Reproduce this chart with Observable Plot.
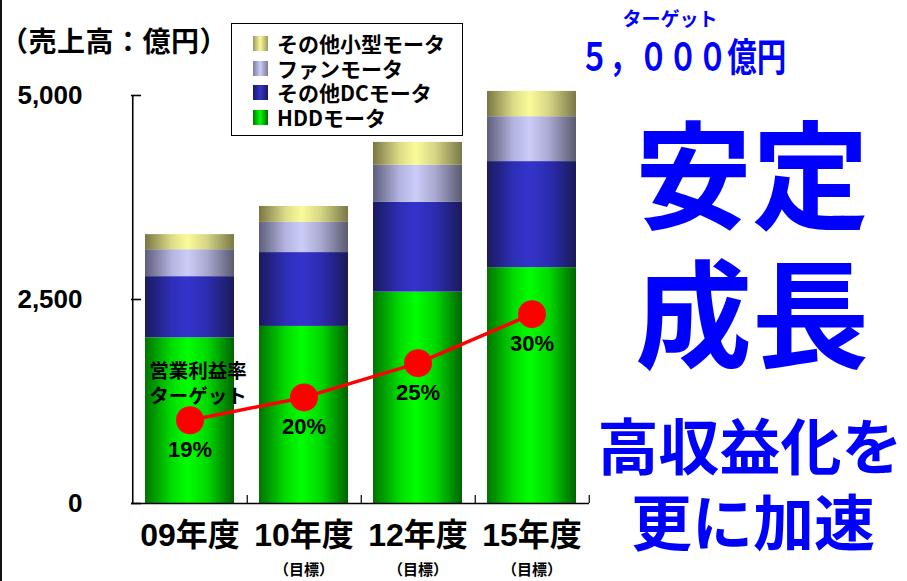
<!DOCTYPE html>
<html>
<head>
<meta charset="utf-8">
<script src="https://cdn.jsdelivr.net/npm/d3@7"></script>
<script src="https://cdn.jsdelivr.net/npm/@observablehq/plot@0.6"></script>
<style>
  html, body { margin: 0; padding: 0; background: #fff; }
  #wrap { position: relative; width: 907px; height: 581px; overflow: hidden; background: #fff;
    font-family: "Noto Sans CJK JP", "Liberation Sans", sans-serif; font-weight: 700; color: #000; }
  #chart { position: absolute; left: 0; top: 0; }
  .abs { position: absolute; white-space: nowrap; line-height: 1; }
  .ctr { transform: translate(-50%, -50%); }
  #leftline { position: absolute; left: 0; top: 0; width: 2px; height: 581px; background: #111; }
  #legend { position: absolute; left: 231px; top: 23px; width: 232px; height: 113px; border: 1px solid #000;
    box-sizing: border-box; padding-top: 7px; background: #fff; }
  .lrow { height: 24.7px; display: flex; align-items: center; font-size: 21px; line-height: 1; }
  .sw { width: 15px; height: 15px; margin-left: 21px; margin-right: 9px; flex: none; }
  .blue { color: #0000ff; }
</style>
</head>
<body>
<svg width="0" height="0" style="position:absolute">
  <defs>
    <linearGradient id="gHDD" x1="0" x2="1" y1="0" y2="0">
      <stop offset="0" stop-color="#007400"/>
      <stop offset="0.3" stop-color="#00dc00"/>
      <stop offset="0.48" stop-color="#00ff00"/>
      <stop offset="0.7" stop-color="#00d800"/>
      <stop offset="1" stop-color="#006400"/>
    </linearGradient>
    <linearGradient id="gDC" x1="0" x2="1" y1="0" y2="0">
      <stop offset="0" stop-color="#1a1a5e"/>
      <stop offset="0.3" stop-color="#2e2eb8"/>
      <stop offset="0.48" stop-color="#3434cc"/>
      <stop offset="0.7" stop-color="#2c2cb0"/>
      <stop offset="1" stop-color="#1a1a5a"/>
    </linearGradient>
    <linearGradient id="gFan" x1="0" x2="1" y1="0" y2="0">
      <stop offset="0" stop-color="#5e5e7c"/>
      <stop offset="0.3" stop-color="#b4b4e0"/>
      <stop offset="0.48" stop-color="#ccccf8"/>
      <stop offset="0.7" stop-color="#a8a8d0"/>
      <stop offset="1" stop-color="#5a5a70"/>
    </linearGradient>
    <linearGradient id="gSmall" x1="0" x2="1" y1="0" y2="0">
      <stop offset="0" stop-color="#7a7644"/>
      <stop offset="0.3" stop-color="#dcdc88"/>
      <stop offset="0.48" stop-color="#fbfb9a"/>
      <stop offset="0.7" stop-color="#d4d484"/>
      <stop offset="1" stop-color="#7a7848"/>
    </linearGradient>
  </defs>
</svg>
<div id="wrap">
  <div id="chart"></div>
  <div id="leftline"></div>
  <div id="title" class="abs" style="left:0px; top:26px; font-size:28px; letter-spacing:0.5px;"></div>
  <div id="legend"></div>
  <div id="tgtLabel" class="abs ctr blue" style="left:670px; top:17px; font-size:19px;"></div>
  <div id="tgtValue" class="abs blue" style="left:683px; top:55px; font-size:29.5px; transform: translate(-50%,-50%) scaleY(1.3);"></div>
  <div id="msg1" class="abs ctr blue" style="left:752px; top:169px; font-size:117px;"></div>
  <div id="msg2" class="abs ctr blue" style="left:752px; top:308px; font-size:117px;"></div>
  <div id="msg3" class="abs ctr blue" style="left:750px; top:443px; font-size:61px;"></div>
  <div id="msg4" class="abs ctr blue" style="left:753px; top:519px; font-size:61px;"></div>
</div>
<script>
// ---- data ----
const years = ["09年度", "10年度", "12年度", "15年度"];
const yearNotes = ["", "（目標）", "（目標）", "（目標）"];
const seriesNames = ["HDDモータ", "その他DCモータ", "ファンモータ", "その他小型モータ"];
const hddMotor = [2030, 2170, 2590, 2890];
const otherDcMotor = [750, 905, 1100, 1300];
const fanMotor = [330, 370, 455, 550];
const otherSmallMotor = [185, 195, 280, 310];
const marginLabels = ["19%", "20%", "25%", "30%"];
const marginMarkerLevel = [1020, 1300, 1720, 2320]; // marker heights read on the sales axis
const yTicks = [0, 2500, 5000];
const titleText = "（売上高：億円）";
const targetLabel = "ターゲット";
const targetValue = "５，０００億円";
const messages = ["安定", "成長", "高収益化を", "更に加速"];
const marginNote = "営業利益率\nターゲット";
const gradientFills = ["url(#gHDD)", "url(#gDC)", "url(#gFan)", "url(#gSmall)"];

// ---- tables ----
const seriesValues = [hddMotor, otherDcMotor, fanMotor, otherSmallMotor];
const stackRows = [];
years.forEach((yr, i) => {
  seriesNames.forEach((s, k) => stackRows.push({year: yr, series: s, value: seriesValues[k][i]}));
});
const marginRows = years.map((yr, i) => ({year: yr, level: marginMarkerLevel[i], label: marginLabels[i]}));

const mixFont = '"Liberation Sans", "Noto Sans CJK JP", sans-serif';
const marginLeft = 131, marginRight = 318, width = 907;
const step = (width - marginLeft - marginRight) / years.length;

const chart = Plot.plot({
  width: 907,
  height: 581,
  marginLeft, marginRight,
  marginTop: 95,
  marginBottom: 78,
  style: {background: "transparent", fontFamily: mixFont, overflow: "visible"},
  x: {domain: years, paddingInner: 0.22, paddingOuter: 0.11, axis: null},
  y: {domain: [0, 5000], axis: null},
  color: {domain: seriesNames, range: gradientFills},
  marks: [
    Plot.barY(stackRows, {x: "year", y: "value", fill: "series"}),
    // axes lines and ticks
    Plot.ruleY([0], {stroke: "#000", strokeWidth: 1.6}),
    Plot.ruleX([years[0]], {x: d => d, dx: -step / 2, stroke: "#000", strokeWidth: 1.6}),
    Plot.tickY(yTicks, {y: d => d, insetRight: step * years.length - 10, stroke: "#000", strokeWidth: 1.6}),
    Plot.ruleX(years, {x: d => d, dx: step / 2, insetTop: 400, stroke: "#000", strokeWidth: 1.2}),
    Plot.axisY(yTicks, {tickSize: 0, tickPadding: 49, tickFormat: d3.format(","), fontSize: 26,
      fontWeight: "bold", fontFamily: '"Liberation Sans", sans-serif', label: null}),
    // category labels
    Plot.text(years, {x: d => d, text: d => d, frameAnchor: "bottom", dy: 42, fontSize: 32,
      fontWeight: "bold", fontFamily: mixFont}),
    Plot.text(years, {x: d => d, text: (d, i) => yearNotes[i], frameAnchor: "bottom", dy: 71, fontSize: 15,
      fontWeight: "bold", fontFamily: '"Noto Sans CJK JP", sans-serif'}),
    // margin target line
    Plot.line(marginRows, {x: "year", y: "level", stroke: "#ff0000", strokeWidth: 3.5}),
    Plot.dot(marginRows, {x: "year", y: "level", r: 14, fill: "#ff0000", stroke: "none"}),
    Plot.text(marginRows, {x: "year", y: "level", text: "label", dy: 30, fontSize: 22, fontWeight: "bold",
      fontFamily: '"Liberation Sans Narrow", "Liberation Sans", sans-serif', fill: "#000"}),
    Plot.text(marginRows.slice(0, 1), {x: "year", y: "level", text: () => marginNote, dx: 8, dy: -38,
      lineHeight: 1.27, fontSize: 19.5, fontWeight: "bold", fontFamily: '"Noto Sans CJK JP", sans-serif', fill: "#000"})
  ]
});
document.getElementById("chart").appendChild(chart);

// ---- text blocks ----
document.getElementById("title").textContent = titleText;
document.getElementById("tgtLabel").textContent = targetLabel;
document.getElementById("tgtValue").textContent = targetValue;
["msg1", "msg2", "msg3", "msg4"].forEach((id, i) => document.getElementById(id).textContent = messages[i]);

// legend (top-to-bottom reversed order, as in the stack)
const legend = document.getElementById("legend");
const swatchCss = {
  "HDDモータ": "linear-gradient(to right,#007800,#00ff00 48%,#006600)",
  "その他DCモータ": "linear-gradient(to right,#1a1a5e,#3434cc 48%,#1a1a5a)",
  "ファンモータ": "linear-gradient(to right,#7c7c9c,#ccccf8 48%,#7a7a90)",
  "その他小型モータ": "linear-gradient(to right,#9a9660,#fbfb9a 48%,#9a9860)"
};
seriesNames.slice().reverse().forEach(name => {
  const row = document.createElement("div");
  row.className = "lrow";
  const sw = document.createElement("div");
  sw.className = "sw";
  sw.style.background = swatchCss[name];
  const t = document.createElement("span");
  t.textContent = name;
  row.appendChild(sw);
  row.appendChild(t);
  legend.appendChild(row);
});
</script>
</body>
</html>
